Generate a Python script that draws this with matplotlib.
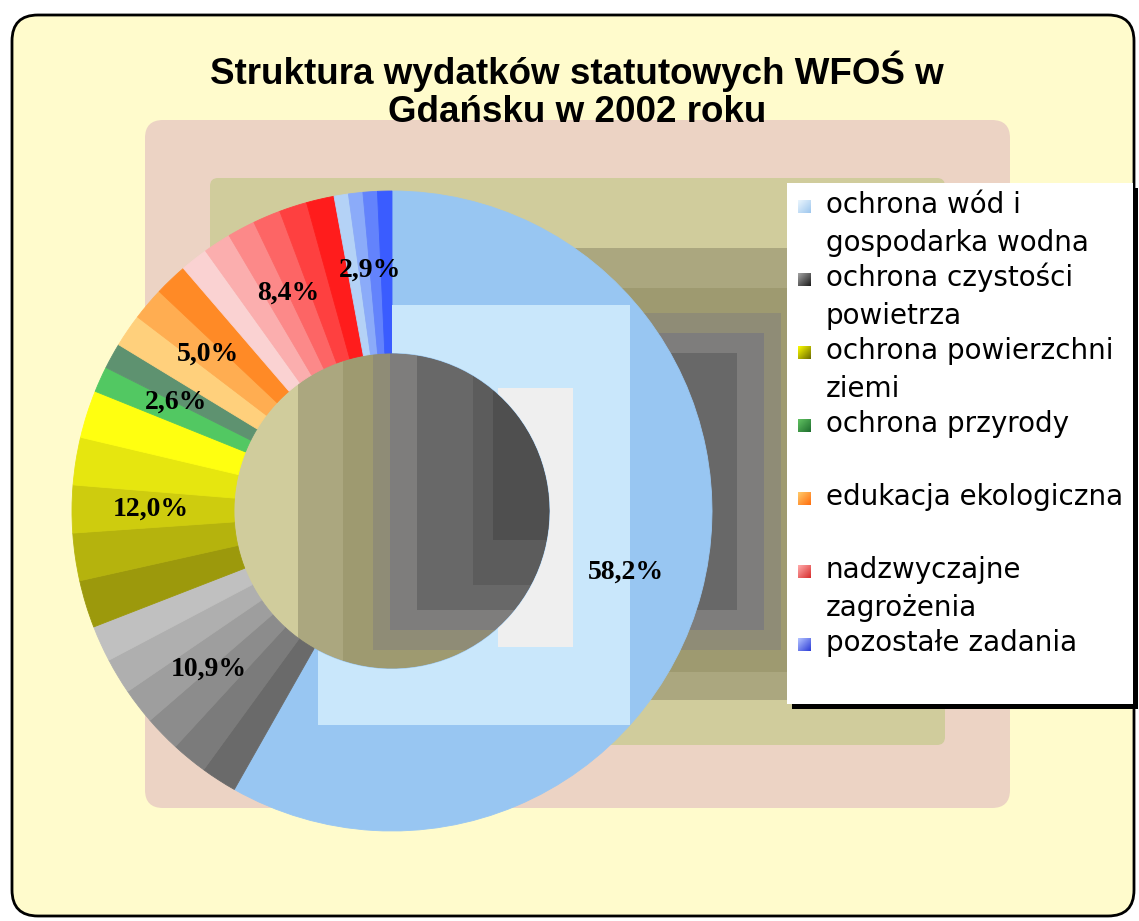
import numpy as np
import matplotlib
matplotlib.use("Agg")
import matplotlib.pyplot as plt
from matplotlib.colors import to_rgb
from matplotlib.patches import FancyBboxPatch, Rectangle

W, H = 1139, 921

title = "Struktura wydatków statutowych WFOŚ w\nGdańsku w 2002 roku"
categories = [
    "ochrona wód i\ngospodarka wodna",
    "ochrona czystości\npowietrza",
    "ochrona powierzchni\nziemi",
    "ochrona przyrody",
    "edukacja ekologiczna",
    "nadzwyczajne\nzagrożenia",
    "pozostałe zadania",
]
shares = [58.2, 10.9, 12.0, 2.6, 5.0, 8.4, 2.9]

# gradient ends of each slice (clockwise from 12 o'clock) and number of bands
slice_start = ["#98C6F2", "#6A6A6A", "#9C990C", "#52C862", "#FFD07C", "#FAD2D2", "#B4D2F6"]
slice_end = ["#98C6F2", "#C0C0C0", "#FFFF10", "#5E9270", "#FF8A26", "#FF1C1C", "#3A5CFF"]
n_bands = [1, 6, 5, 2, 3, 6, 4]

key_light = ["#E8F4FD", "#A0A0A0", "#F8F800", "#60C060", "#FFC868", "#FFA8A8", "#B0C0FF"]
key_dark = ["#A0C8EE", "#202020", "#707000", "#207030", "#FF7010", "#D83030", "#3040D8"]


def Y(y):
    # reference pixel row -> axis coordinate
    return H - y


def blend(c1, c2, n):
    a, b = np.array(to_rgb(c1)), np.array(to_rgb(c2))
    if n == 1:
        return [tuple(a)]
    return [tuple(a + (b - a) * t) for t in np.linspace(0, 1, n)]


def diag_grad(c1, c2, n=10):
    a, b = np.array(to_rgb(c1)), np.array(to_rgb(c2))
    t = (np.arange(n)[:, None] + np.arange(n)[None, :]) / (2 * n - 2)
    return a + (b - a) * t[..., None]


fig = plt.figure(figsize=(W / 100, H / 100), dpi=100)
ax = fig.add_axes([0, 0, 1, 1])
ax.set_xlim(0, W)
ax.set_ylim(0, H)
ax.axis("off")

# outer chart frame
ax.add_patch(FancyBboxPatch((12, Y(916)), 1122, 901, boxstyle="round,pad=0,rounding_size=26",
                            fc="#FFFBCC", ec="black", lw=2, zorder=0))

# plot-area "gradient" drawn as nested boxes
ax.add_patch(FancyBboxPatch((145, Y(808)), 865, 688, boxstyle="round,pad=0,rounding_size=18",
                            fc="#ECD3C4", ec="none", zorder=1))
ax.add_patch(FancyBboxPatch((210, Y(745)), 735, 567, boxstyle="round,pad=0,rounding_size=8",
                            fc="#D0CC9C", ec="none", zorder=1))
inner_boxes = [
    (298, 248, 856, 700, "#ABA77F"),
    (343, 288, 811, 672, "#9E9A70"),
    (373, 313, 781, 650, "#8F8C76"),
    (390, 333, 764, 630, "#7E7D7C"),
    (417, 353, 737, 610, "#686868"),
    (473, 373, 681, 585, "#5C5C5C"),
    (493, 390, 661, 540, "#4F4F4F"),
]
for x0, y0, x1, y1, c in inner_boxes:
    ax.add_patch(Rectangle((x0, Y(y1)), x1 - x0, y1 - y0, fc=c, ec="none", zorder=1))

# donut, each slice split into bands to mimic the gradient fill
sub_vals, sub_cols = [], []
for v, c1, c2, n in zip(shares, slice_start, slice_end, n_bands):
    sub_vals += [v / n] * n
    sub_cols += blend(c1, c2, n)

cx, cy, R, r_in = 392, Y(511), 320, 158
wedges, _ = ax.pie(sub_vals, colors=sub_cols, startangle=90, counterclock=False,
                   radius=R, center=(cx, cy), frame=True,
                   wedgeprops=dict(width=R - r_in, linewidth=0.6, zorder=2))
for w, c in zip(wedges, sub_cols):
    w.set_edgecolor(c)

# lighter boxes inside the big blue slice
big = wedges[0]
for x0, y0, x1, y1, c in [(318, 305, 630, 725, "#C9E7FB"), (498, 388, 573, 647, "#EFEFEF")]:
    p = Rectangle((x0, Y(y1)), x1 - x0, y1 - y0, fc=c, ec="none", zorder=3)
    ax.add_patch(p)
    p.set_clip_path(big)

# percentage labels
_, _, autotexts = ax.pie(shares, colors=["none"] * len(shares), startangle=90, counterclock=False,
                         radius=R, center=(cx, cy), frame=True,
                         wedgeprops=dict(width=R - r_in, linewidth=0, zorder=4),
                         autopct=lambda p: f"{p:.1f}%".replace(".", ","), pctdistance=0.755,
                         textprops=dict(fontsize=20, fontweight="bold", color="black",
                                        family=["Liberation Serif", "DejaVu Serif"], zorder=6))

ax.set_xlim(0, W)
ax.set_ylim(0, H)
ax.set_aspect("auto")

# title
ax.text(577, Y(90), title, ha="center", va="center", fontsize=26.5, fontweight="bold",
        family=["Liberation Sans", "DejaVu Sans"], linespacing=1.1, zorder=6)

# legend box with black shadow
ax.add_patch(Rectangle((792, Y(709)), 346, 521, fc="black", ec="none", zorder=5))
ax.add_patch(Rectangle((787, Y(704)), 346, 521, fc="white", ec="none", zorder=5))
for i, (lab, c1, c2) in enumerate(zip(categories, key_light, key_dark)):
    y0 = 206 + i * 73
    ax.imshow(diag_grad(c1, c2), extent=(798, 811, Y(y0 + 7), Y(y0 - 6)), aspect="auto",
              interpolation="bilinear", zorder=6)
    for j, line in enumerate(lab.split("\n")):
        ax.text(826, Y(y0 + j * 38 + 7), line, ha="left", va="baseline", fontsize=20,
                family=["DejaVu Sans"], zorder=6)

ax.set_xlim(0, W)
ax.set_ylim(0, H)
fig.savefig("out.png", dpi=100)
